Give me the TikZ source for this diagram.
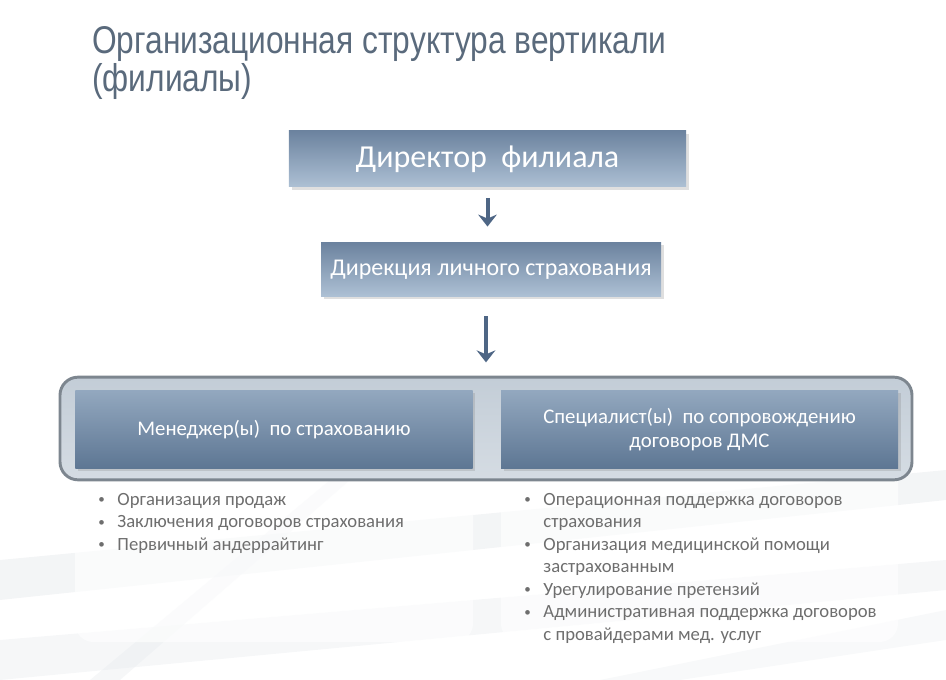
\documentclass[tikz,border=0pt]{standalone}
\usepackage{fontspec}
\setmainfont{Carlito}
\newfontfamily\titlefont[FakeStretch=0.82]{Liberation Sans}
\usetikzlibrary{positioning,arrows.meta,shadows}

\definecolor{titlegray}{HTML}{5A6A7C}
\definecolor{boxtop}{HTML}{6C839F}
\definecolor{boxbot}{HTML}{ADC0D4}
\definecolor{rowtop}{HTML}{93A8BF}
\definecolor{rowbot}{HTML}{5D7693}
\definecolor{grptop}{HTML}{C3CDD7}
\definecolor{grpbot}{HTML}{D5DCE3}
\definecolor{grpline}{HTML}{7D868F}
\definecolor{arrowblue}{HTML}{4E6685}
\definecolor{listgray}{HTML}{6E6E6E}
\definecolor{bgline}{HTML}{E8EBEE}

\newcommand{\bul}{\raisebox{1pt}{\scalebox{0.7}{\textbullet}}}

\tikzset{
  topbox/.style={rectangle, top color=boxtop, bottom color=boxbot, text=white,
    drop shadow={opacity=.25, shadow xshift=2pt, shadow yshift=-2pt}},
  rowbox/.style={rectangle, top color=rowtop, bottom color=rowbot, text=white,
    minimum width=298pt, minimum height=59pt, align=center, font=\fontsize{15.6}{18}\selectfont,
    drop shadow={opacity=.25, shadow xshift=2pt, shadow yshift=-2pt}},
  downarrow/.style={line width=3pt, arrowblue, -{Stealth[length=9pt, width=14pt, inset=3pt]}},
  bullets/.style={text=listgray, align=left, inner sep=0pt, font=\fontsize{14}{16.9}\selectfont}
}

\begin{document}
\begin{tikzpicture}[x=0.75pt, y=-0.75pt]
    \useasboundingbox (0,0) rectangle (946,680);
    % faint background
    \fill[bgline, opacity=.5] (0,560) -- (946,470) -- (946,500) -- (0,600) -- cycle;
    \fill[bgline, opacity=.4] (0,640) -- (946,560) -- (946,590) -- (0,680) -- cycle;
    \fill[bgline, opacity=.4] (90,680) -- (330,480) -- (350,480) -- (120,680) -- cycle;
    \fill[bgline, opacity=.3] (600,680) -- (946,610) -- (946,640) -- (680,680) -- cycle;
    \fill[white, opacity=.6, rounded corners=14pt] (75,455) rectangle (473,642);
    \fill[white, opacity=.6, rounded corners=14pt] (501,455) rectangle (898,642);

    \node[anchor=north west, align=left, text=titlegray, inner sep=0pt,
      font=\titlefont\fontsize{29}{28.5}\selectfont] (title) at (92,26)
      {Организационная структура вертикали\\(филиалы)};

    \node[topbox, minimum width=298pt, minimum height=42pt,
      font=\fontsize{24}{27}\selectfont] (dir) at (487.5,159) {Директор\ \ филиала};
    \node[topbox, minimum width=255pt, minimum height=40pt,
      font=\fontsize{18}{21}\selectfont] (dlp) at (491,269.5) {Дирекция личного страхования};

    \node[rectangle, rounded corners=13.5pt, draw=grpline, line width=2.2pt,
      top color=grptop, bottom color=grpbot,
      minimum width=639pt, minimum height=77pt] (grp) at (486,428.5) {};

    \node[rowbox] (mgr) at (274,429.5) {Менеджер(ы)\ \ по страхованию};
    \node[rowbox, minimum width=297.75pt] (spec) at (699.5,429.5)
      {Специалист(ы)\ \ по сопровождению\\договоров ДМС};

    \draw[downarrow, shorten <=8pt, shorten >=12pt] (dir.south) -- (dir.south |- dlp.north);
    \draw[downarrow, shorten <=15pt, shorten >=10pt] (dlp.south -| grp.north) -- (grp.north);

    \node[bullets, anchor=north west] (mgrlist) at (98,489) {%
      \begin{tabular}{@{}l@{\hspace{9.5pt}}l@{}}
      \bul & Организация продаж\\
      \bul & Заключения договоров страхования\\
      \bul & Первичный андеррайтинг
      \end{tabular}};
    \node[bullets, anchor=north west] (speclist) at (524,489) {%
      \begin{tabular}{@{}l@{\hspace{9.5pt}}l@{}}
      \bul & Операционная поддержка договоров\\
           & страхования\\
      \bul & Организация медицинской помощи\\
           & застрахованным\\
      \bul & Урегулирование претензий\\
      \bul & Административная поддержка договоров\\
           & с провайдерами мед. услуг
      \end{tabular}};
\end{tikzpicture}
\end{document}
